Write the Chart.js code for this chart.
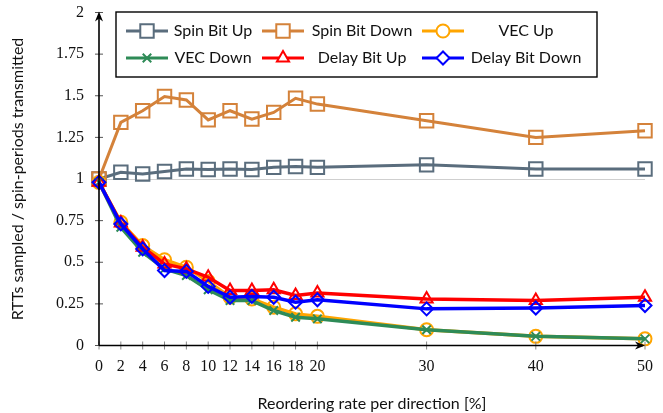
<!DOCTYPE html>
<html>
<head>
<meta charset="utf-8">
<script src="https://cdn.jsdelivr.net/npm/chart.js@4/dist/chart.umd.min.js"></script>
<style>
  html, body { margin: 0; padding: 0; background: #fff; }
  #wrap { width: 663px; height: 413px; position: relative; }
</style>
</head>
<body>
<div id="wrap"><canvas id="chart"></canvas></div>
<script>
// x positions (reordering rate, %)
const rates = [0, 2, 4, 6, 8, 10, 12, 14, 16, 18, 20, 30, 40, 50];
const xTickValues = [0, 2, 4, 6, 8, 10, 12, 14, 16, 18, 20, 30, 40, 50];
const yTickValues = [0, 0.25, 0.5, 0.75, 1, 1.25, 1.5, 1.75, 2];
const yTickLabels = ["0", "0.25", "0.5", "0.75", "1", "1.25", "1.5", "1.75", "2"];

// series values
const spinBitUp     = [1.00, 1.04, 1.03, 1.045, 1.06, 1.057, 1.06, 1.057, 1.07, 1.075, 1.07, 1.085, 1.06, 1.06];
const spinBitDown   = [1.00, 1.34, 1.41, 1.495, 1.475, 1.355, 1.41, 1.36, 1.40, 1.485, 1.45, 1.35, 1.25, 1.29];
const vecUp         = [0.98, 0.74, 0.60, 0.515, 0.47, 0.385, 0.29, 0.28, 0.23, 0.19, 0.175, 0.095, 0.055, 0.04];
const vecDown       = [0.98, 0.71, 0.56, 0.46, 0.42, 0.335, 0.27, 0.27, 0.21, 0.17, 0.16, 0.095, 0.055, 0.04];
const delayBitUp    = [0.98, 0.735, 0.59, 0.49, 0.46, 0.41, 0.33, 0.33, 0.335, 0.30, 0.315, 0.28, 0.27, 0.29];
const delayBitDown  = [0.98, 0.73, 0.58, 0.45, 0.445, 0.355, 0.29, 0.295, 0.29, 0.26, 0.275, 0.22, 0.225, 0.24];

const seriesNames = ["Spin Bit Up", "Spin Bit Down", "VEC Up", "VEC Down", "Delay Bit Up", "Delay Bit Down"];
const seriesData = [spinBitUp, spinBitDown, vecUp, vecDown, delayBitUp, delayBitDown];
const seriesColors = ["#5a6d7d", "#d4823a", "#ffa500", "#2e8b57", "#ff0000", "#0000ff"];
const seriesMarkers = ["rect", "rect", "circle", "crossRot", "triangle", "rectRot"];
const seriesRadius = [9.5, 9.5, 6.5, 6, 7, 6.5];

const datasets = seriesNames.map((name, i) => ({
  label: name,
  data: rates.map((r, j) => ({ x: r, y: seriesData[i][j] })),
  borderColor: seriesColors[i],
  backgroundColor: "rgba(0,0,0,0)",
  borderWidth: i < 2 ? 3 : 3.5,
  pointStyle: seriesMarkers[i],
  pointRadius: seriesRadius[i],
  pointBorderWidth: 2,
  pointBorderColor: seriesColors[i],
  pointBackgroundColor: "rgba(0,0,0,0)",
  tension: 0,
  clip: false,
  order: seriesNames.length - i,
}));

// axis lines with arrows + ticks crossing the axes
const pgfAxes = {
  id: "pgfAxes",
  afterDatasetsDraw(chart) {
    const { ctx, chartArea: a, scales } = chart;
    const xs = scales.x, ys = scales.y;
    ctx.save();
    // ticks
    ctx.lineWidth = 1;
    ctx.strokeStyle = "#888";
    xTickValues.forEach(v => {
      const px = xs.getPixelForValue(v);
      ctx.beginPath();
      ctx.moveTo(px, a.bottom - 4);
      ctx.lineTo(px, a.bottom + 4);
      ctx.stroke();
    });
    ctx.strokeStyle = "#555";
    yTickValues.forEach(v => {
      const py = ys.getPixelForValue(v);
      ctx.beginPath();
      ctx.moveTo(a.left - 4, py);
      ctx.lineTo(a.left + 4, py);
      ctx.stroke();
    });
    // axis lines
    ctx.strokeStyle = "#000";
    ctx.fillStyle = "#000";
    ctx.lineWidth = 1.6;
    ctx.beginPath();
    ctx.moveTo(a.left, a.bottom);
    ctx.lineTo(a.right - 2, a.bottom);
    ctx.moveTo(a.left, a.bottom);
    ctx.lineTo(a.left, a.top + 2);
    ctx.stroke();
    // arrow heads
    ctx.beginPath();
    ctx.moveTo(a.right, a.bottom);
    ctx.lineTo(a.right - 10, a.bottom - 4);
    ctx.lineTo(a.right - 7, a.bottom);
    ctx.lineTo(a.right - 10, a.bottom + 4);
    ctx.closePath();
    ctx.fill();
    ctx.beginPath();
    ctx.moveTo(a.left, a.top - 1);
    ctx.lineTo(a.left - 4, a.top + 9);
    ctx.lineTo(a.left, a.top + 6);
    ctx.lineTo(a.left + 4, a.top + 9);
    ctx.closePath();
    ctx.fill();
    ctx.restore();
  }
};

// boxed legend, 3 columns x 2 rows
const boxLegend = {
  id: "boxLegend",
  afterDraw(chart) {
    const ctx = chart.ctx;
    const box = { left: 116, top: 12, right: 597, bottom: 77 };
    const colLine = [126, 262, 422];
    const colText = [213, 362, 526];
    const rowY = [31, 58];
    ctx.save();
    ctx.fillStyle = "#fff";
    ctx.fillRect(box.left, box.top, box.right - box.left, box.bottom - box.top);
    ctx.strokeStyle = "#000";
    ctx.lineWidth = 1.4;
    ctx.strokeRect(box.left, box.top, box.right - box.left, box.bottom - box.top);
    chart.data.datasets.forEach((ds, i) => {
      const col = i % 3, row = Math.floor(i / 3);
      const x0 = colLine[col], y = rowY[row];
      ctx.strokeStyle = ds.borderColor;
      ctx.lineWidth = 3;
      ctx.beginPath();
      ctx.moveTo(x0, y);
      ctx.lineTo(x0 + 42, y);
      ctx.stroke();
      ctx.lineWidth = 2;
      ctx.fillStyle = "#fff";
      Chart.helpers.drawPoint(ctx, {
        pointStyle: ds.pointStyle,
        radius: ds.pointRadius,
        rotation: 0,
        borderWidth: 2
      }, x0 + 21, y);
      ctx.fillStyle = "#111";
      ctx.font = "16px Lato";
      ctx.textAlign = "center";
      ctx.textBaseline = "middle";
      ctx.fillText(ds.label, colText[col], y);
    });
    ctx.restore();
  }
};

new Chart(document.getElementById("chart"), {
  type: "line",
  data: { datasets },
  options: {
    responsive: true,
    maintainAspectRatio: false,
    animation: false,
    layout: { padding: { top: 12.5, right: 18, left: 0, bottom: 0 } },
    plugins: {
      legend: { display: false },
      tooltip: { enabled: false }
    },
    scales: {
      x: {
        type: "linear",
        min: 0,
        max: 50,
        afterBuildTicks: s => { s.ticks = xTickValues.map(v => ({ value: v })); },
        afterFit: s => { s.height = 67.5; s.paddingRight = 0; },
        border: { display: false },
        grid: { display: false, drawTicks: false },
        ticks: {
          color: "#111",
          padding: 12,
          maxRotation: 0,
          autoSkip: false,
          font: { family: "Liberation Serif", size: 16 },
          callback: v => String(v)
        },
        title: {
          display: true,
          text: "Reordering rate per direction [%]",
          color: "#111",
          font: { family: "Lato", size: 16 },
          padding: { top: 0, bottom: 0 }
        }
      },
      y: {
        type: "linear",
        min: 0,
        max: 2,
        afterBuildTicks: s => { s.ticks = yTickValues.map(v => ({ value: v })); },
        afterFit: s => { s.width = 99; s.paddingTop = 0; s.paddingBottom = 0; },
        border: { display: false },
        grid: {
          drawTicks: false,
          color: c => (c.tick && c.tick.value === 1 ? "#cfcfcf" : "rgba(0,0,0,0)"),
          lineWidth: 1
        },
        ticks: {
          color: "#111",
          padding: 15,
          autoSkip: false,
          font: { family: "Liberation Serif", size: 16 },
          callback: v => yTickLabels[yTickValues.indexOf(v)]
        },
        title: {
          display: true,
          text: "RTTs sampled / spin-periods transmitted",
          color: "#111",
          font: { family: "Lato", size: 16 },
          padding: { top: 8, bottom: 0 }
        }
      }
    }
  },
  plugins: [pgfAxes, boxLegend]
});
</script>
</body>
</html>
